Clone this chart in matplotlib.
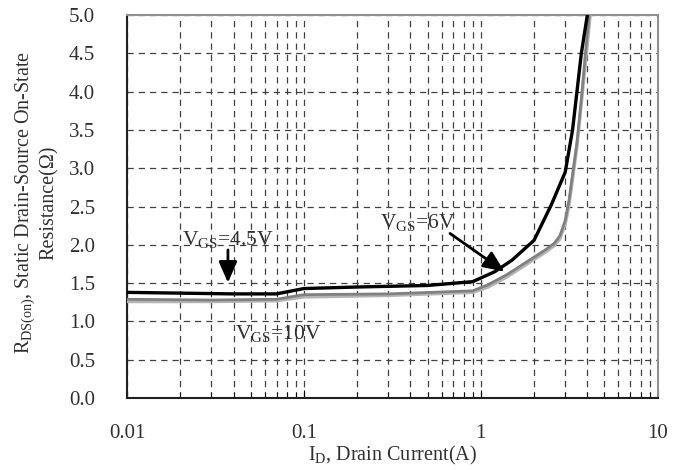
import matplotlib
matplotlib.use("Agg")
import matplotlib.pyplot as plt
from matplotlib.ticker import LogLocator, NullFormatter, FixedLocator

plt.rcParams['font.family'] = ['Liberation Serif', 'DejaVu Serif']
plt.rcParams['mathtext.fontset'] = 'custom'
plt.rcParams['mathtext.rm'] = 'Liberation Serif'

# VGS = 4.5 V (black)
id_45 = [0.01, 0.02, 0.04, 0.07, 0.1, 0.2, 0.5, 0.9, 1.2, 1.5, 2.0, 2.5, 3.0, 3.3, 3.7, 4.0]
r_45 = [1.38, 1.37, 1.36, 1.36, 1.43, 1.45, 1.47, 1.52, 1.65, 1.80, 2.06, 2.52, 2.95, 3.5, 4.5, 5.0]

# VGS = 6 V (dark gray)
id_6 = [0.01, 0.03, 0.07, 0.1, 0.3, 0.9, 1.1, 1.4, 2.0, 2.3, 2.6, 2.8, 3.0, 3.15, 3.3, 3.5, 3.7, 3.9, 4.1]
r_6 = [1.29, 1.28, 1.29, 1.35, 1.36, 1.40, 1.48, 1.61, 1.84, 1.93, 2.02, 2.12, 2.32, 2.58, 2.92, 3.35, 3.9, 4.5, 5.0]

# VGS = 10 V (light gray)
id_10 = [0.01, 0.03, 0.07, 0.1, 0.3, 0.9, 1.1, 1.4, 2.0, 2.3, 2.6, 2.8, 3.0, 3.15, 3.3, 3.5, 3.7, 3.95, 4.15]
r_10 = [1.26, 1.26, 1.27, 1.32, 1.34, 1.38, 1.45, 1.58, 1.81, 1.90, 1.99, 2.08, 2.27, 2.52, 2.86, 3.3, 3.85, 4.5, 5.0]

y_ticks = [0.0, 0.5, 1.0, 1.5, 2.0, 2.5, 3.0, 3.5, 4.0, 4.5, 5.0]
x_ticks = [0.01, 0.1, 1, 10]
x_labels = ['0.01', '0.1', '1', '10']

fig = plt.figure(figsize=(6.88, 4.70), dpi=100)
ax = fig.add_axes([0.1846, 0.153, 0.7714, 0.815])

ax.set_xscale('log')
ax.set_xlim(0.01, 10)
ax.set_ylim(0, 5)

ax.plot(id_10, r_10, color='#b4b4b4', lw=2.4, zorder=3)
ax.plot(id_6, r_6, color='#808080', lw=2.0, zorder=3)
ax.plot(id_45, r_45, color='black', lw=2.4, zorder=4)

ax.xaxis.set_major_locator(FixedLocator(x_ticks))
ax.set_xticklabels(x_labels)
ax.xaxis.set_minor_locator(LogLocator(base=10, subs=range(2, 10)))
ax.xaxis.set_minor_formatter(NullFormatter())
ax.set_yticks(y_ticks)
ax.set_yticklabels([f'{v:.1f}' for v in y_ticks])

ax.grid(True, which='both', axis='x', ls=(0, (5, 4)), color='#404040', lw=0.9)
ax.grid(True, which='major', axis='y', ls=(0, (5, 4)), color='#404040', lw=0.9)

ax.tick_params(axis='x', which='major', direction='in', length=6, pad=19, labelsize=15)
ax.tick_params(axis='x', which='minor', direction='in', length=4)
ax.tick_params(axis='y', direction='in', length=0, pad=23, labelsize=15, labelcolor='#303030')
ax.tick_params(axis='x', labelcolor='#303030')

for side in ['left', 'bottom']:
    ax.spines[side].set_color('#202020')
    ax.spines[side].set_linewidth(1.5)
for side in ['top', 'right']:
    ax.spines[side].set_color('#909090')
    ax.spines[side].set_linewidth(1.5)

ax.set_xlabel('I$_{\\mathrm{D}}$, Drain Current(A)', fontsize=14.5, color='#303030')
ax.xaxis.set_label_coords(0.5, -0.12)
ax.set_ylabel('R$_{\\mathrm{DS(on)}}$, Static Drain-Source On-State\nResistance(\u03a9)',
              fontsize=14.5, linespacing=1.15, color='#303030')
ax.yaxis.set_label_coords(-0.128, 0.51)

arrow_style = dict(arrowstyle='-|>,head_width=0.35,head_length=0.8', color='black',
                   lw=2, mutation_scale=16)

ax.annotate('', xy=(0.0372, 1.47), xytext=(0.0372, 1.97), arrowprops=arrow_style)
ax.text(0.0205, 1.99, 'V$_{\\mathrm{GS}}$=4.5V', fontsize=15.5, color='#303030')

ax.annotate('', xy=(1.40, 1.63), xytext=(0.65, 2.17), arrowprops=arrow_style)
ax.text(0.27, 2.22, 'V$_{\\mathrm{GS}}$=6V', fontsize=15.5, color='#303030')

ax.text(0.041, 0.77, 'V$_{\\mathrm{GS}}$=10V', fontsize=15.5, color='#303030')

fig.savefig('out.png', dpi=100)
